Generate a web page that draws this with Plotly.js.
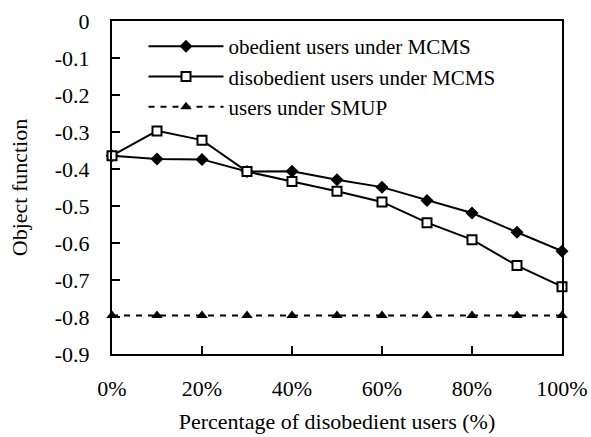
<!DOCTYPE html>
<html>
<head>
<meta charset="utf-8">
<script src="https://cdn.plot.ly/plotly-3.0.1.min.js"></script>
<style>html,body{margin:0;padding:0;background:#fff;}#chart{width:591px;height:437px;}</style>
</head>
<body>
<div id="chart"></div>
<script>
const xPercent = [0, 10, 20, 30, 40, 50, 60, 70, 80, 90, 100];
const obedientMCMS = [-0.364, -0.373, -0.374, -0.407, -0.406, -0.429, -0.449, -0.485, -0.519, -0.571, -0.622];
const disobedientMCMS = [-0.364, -0.297, -0.322, -0.407, -0.434, -0.460, -0.489, -0.545, -0.591, -0.661, -0.718];
const usersSMUP = [-0.796, -0.796, -0.796, -0.796, -0.796, -0.796, -0.796, -0.796, -0.796, -0.796, -0.796];
const seriesNames = ['obedient users under MCMS', 'disobedient users under MCMS', 'users under SMUP'];
const xTickVals = [0, 20, 40, 60, 80, 100];
const xTickText = ['0%', '20%', '40%', '60%', '80%', '100%'];
const yTickVals = [0, -0.1, -0.2, -0.3, -0.4, -0.5, -0.6, -0.7, -0.8, -0.9];
const yTickText = ['0', '-0.1', '-0.2', '-0.3', '-0.4', '-0.5', '-0.6', '-0.7', '-0.8', '-0.9'];

const FONT = "'Liberation Serif', 'Times New Roman', serif";
const FS = 22;
const traces = [
  {x: xPercent, y: obedientMCMS, name: seriesNames[0], mode: 'lines+markers', cliponaxis: false,
   line: {color: '#000', width: 2},
   marker: {symbol: 'diamond', size: 10, color: '#000'}},
  {x: xPercent, y: disobedientMCMS, name: seriesNames[1], mode: 'lines+markers', cliponaxis: false,
   line: {color: '#000', width: 2},
   marker: {symbol: 'square', size: 9, color: '#fff', line: {color: '#000', width: 2}}},
  {x: xPercent, y: usersSMUP, name: seriesNames[2], mode: 'lines+markers', cliponaxis: false,
   line: {color: '#000', width: 2, dash: '6px,6px'},
   marker: {symbol: 'triangle-up', size: 10, color: '#000'}}
];
const layout = {
  width: 591, height: 437,
  margin: {l: 112, r: 29, t: 21, b: 83},
  paper_bgcolor: '#fff', plot_bgcolor: '#fff',
  font: {family: FONT, size: FS, color: '#000'},
  showlegend: true,
  legend: {x: 0.07, y: 0.985, xanchor: 'left', yanchor: 'top', bgcolor: 'rgba(0,0,0,0)',
           font: {family: FONT, size: 21, color: '#000'}, itemwidth: 75, tracegroupgap: 0},
  xaxis: {range: [0, 100], tickvals: xTickVals, ticktext: xTickText, ticks: 'inside', ticklen: 8,
          tickwidth: 2, tickcolor: '#000', showline: true, linewidth: 2, linecolor: '#000', mirror: true,
          showgrid: false, zeroline: false, ticklabelstandoff: 14,
          tickfont: {family: FONT, size: FS, color: '#000'},
          title: {text: 'Percentage of disobedient users (%)', font: {family: FONT, size: FS, color: '#000'}, standoff: 13}},
  yaxis: {range: [-0.9, 0], tickvals: yTickVals, ticktext: yTickText, ticks: 'inside', ticklen: 8,
          tickwidth: 2, tickcolor: '#000', showline: true, linewidth: 2, linecolor: '#000', mirror: true,
          showgrid: false, zeroline: false, ticklabelstandoff: 16,
          tickfont: {family: FONT, size: FS, color: '#000'},
          title: {text: 'Object function', font: {family: FONT, size: FS, color: '#000'}, standoff: 21}}
};
Plotly.newPlot('chart', traces, layout, {staticPlot: true, displayModeBar: false});
</script>
</body>
</html>
